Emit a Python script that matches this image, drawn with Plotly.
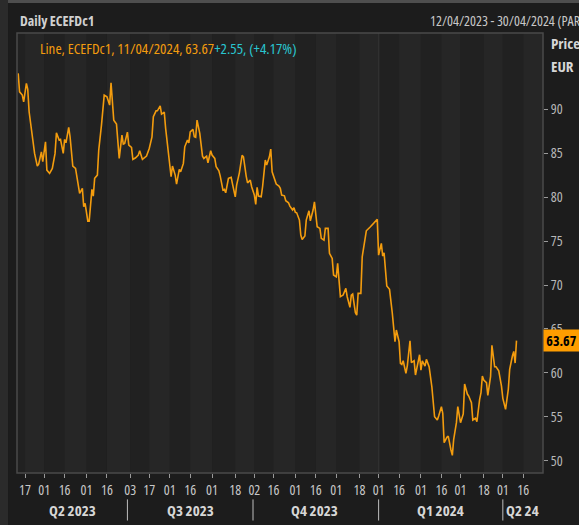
import plotly.graph_objects as go

# ---------------- data ----------------
dates = [
    "2023-04-12", "2023-04-13", "2023-04-15", "2023-04-16", "2023-04-18", "2023-04-19", "2023-04-20",
    "2023-04-22", "2023-04-24", "2023-04-26", "2023-04-27", "2023-04-29", "2023-04-30",
    "2023-05-02", "2023-05-03", "2023-05-05", "2023-05-07", "2023-05-09", "2023-05-10", "2023-05-12",
    "2023-05-13", "2023-05-15", "2023-05-16", "2023-05-17", "2023-05-19", "2023-05-20", "2023-05-22",
    "2023-05-24", "2023-05-26", "2023-05-27", "2023-05-29", "2023-05-30", "2023-05-31",
    "2023-06-02", "2023-06-03", "2023-06-05", "2023-06-06", "2023-06-07", "2023-06-09", "2023-06-10",
    "2023-06-12", "2023-06-14", "2023-06-16", "2023-06-18", "2023-06-19", "2023-06-21", "2023-06-23",
    "2023-06-25", "2023-06-27", "2023-06-28", "2023-06-29",
    "2023-07-01", "2023-07-02", "2023-07-04", "2023-07-05", "2023-07-07", "2023-07-09", "2023-07-10",
    "2023-07-12", "2023-07-15", "2023-07-17", "2023-07-19", "2023-07-20", "2023-07-22", "2023-07-23",
    "2023-07-25", "2023-07-26", "2023-07-28", "2023-07-29", "2023-07-31",
    "2023-08-02", "2023-08-03", "2023-08-05", "2023-08-06", "2023-08-08", "2023-08-09", "2023-08-11",
    "2023-08-12", "2023-08-14", "2023-08-15", "2023-08-16", "2023-08-18", "2023-08-19", "2023-08-20",
    "2023-08-21", "2023-08-23", "2023-08-25", "2023-08-26", "2023-08-28", "2023-08-29", "2023-08-31",
    "2023-09-01", "2023-09-03", "2023-09-04", "2023-09-06", "2023-09-07", "2023-09-09", "2023-09-10",
    "2023-09-11", "2023-09-13", "2023-09-15", "2023-09-16", "2023-09-18", "2023-09-19", "2023-09-21",
    "2023-09-23", "2023-09-24", "2023-09-26", "2023-09-27", "2023-09-29", "2023-09-30",
    "2023-10-02", "2023-10-03", "2023-10-04", "2023-10-05", "2023-10-07", "2023-10-08", "2023-10-10",
    "2023-10-11", "2023-10-13", "2023-10-14", "2023-10-15", "2023-10-16", "2023-10-18", "2023-10-20",
    "2023-10-21", "2023-10-22", "2023-10-24", "2023-10-25", "2023-10-27", "2023-10-28", "2023-10-30",
    "2023-10-31",
    "2023-11-01", "2023-11-02", "2023-11-04", "2023-11-05", "2023-11-06", "2023-11-08", "2023-11-09",
    "2023-11-11", "2023-11-12", "2023-11-14", "2023-11-15", "2023-11-17", "2023-11-19", "2023-11-20",
    "2023-11-22", "2023-11-23", "2023-11-25", "2023-11-26", "2023-11-28", "2023-11-29",
    "2023-12-01", "2023-12-02", "2023-12-04", "2023-12-06", "2023-12-08", "2023-12-09", "2023-12-11",
    "2023-12-12", "2023-12-13", "2023-12-15", "2023-12-16", "2023-12-17", "2023-12-19", "2023-12-20",
    "2023-12-22", "2023-12-23", "2023-12-26", "2023-12-28", "2023-12-30", "2023-12-31",
    "2024-01-01", "2024-01-03", "2024-01-04", "2024-01-05", "2024-01-07", "2024-01-09", "2024-01-11",
    "2024-01-13", "2024-01-14", "2024-01-16", "2024-01-17", "2024-01-18", "2024-01-19", "2024-01-21",
    "2024-01-22", "2024-01-24", "2024-01-25", "2024-01-27", "2024-01-28", "2024-01-30", "2024-01-31",
    "2024-02-01", "2024-02-02", "2024-02-04", "2024-02-05", "2024-02-07", "2024-02-09", "2024-02-11",
    "2024-02-13", "2024-02-14", "2024-02-16", "2024-02-17", "2024-02-18", "2024-02-20", "2024-02-21",
    "2024-02-23", "2024-02-24", "2024-02-25", "2024-02-27", "2024-02-28",
    "2024-03-01", "2024-03-03", "2024-03-04", "2024-03-06", "2024-03-07", "2024-03-09", "2024-03-10",
    "2024-03-12", "2024-03-13", "2024-03-15", "2024-03-16", "2024-03-17", "2024-03-18", "2024-03-20",
    "2024-03-21", "2024-03-23", "2024-03-24", "2024-03-26", "2024-03-27", "2024-03-29", "2024-03-31",
    "2024-04-01", "2024-04-03", "2024-04-05", "2024-04-06", "2024-04-08", "2024-04-09", "2024-04-10",
    "2024-04-11",
]

prices = [
    94.10, 92.00, 91.63, 90.86, 92.96, 92.28, 89.73, 87.07, 84.99, 83.55, 83.77, 85.17, 84.04,
    86.31, 83.09, 82.71, 83.28, 84.99, 87.34, 86.51, 86.58, 84.99, 86.58, 86.20, 87.95, 86.88, 83.55,
    83.28, 81.01, 80.44, 81.01, 78.91, 79.30,
    77.28, 77.28, 80.89, 80.13, 82.15, 82.52, 85.37, 88.21, 91.63, 91.43, 90.49, 93.03, 88.78, 88.33,
    84.42, 87.07, 86.05, 86.13,
    87.42, 85.94, 85.67, 84.31, 84.49, 84.80, 85.29, 84.31, 84.68, 85.56, 86.88, 89.16, 89.84, 89.84,
    90.41, 89.46, 89.69, 87.84, 84.99,
    82.33, 83.55, 82.52, 81.50, 83.17, 82.90, 83.85, 85.74, 86.51, 86.20, 87.45, 87.72, 86.88, 86.81,
    88.78, 87.27, 84.68, 84.42, 84.68, 83.92, 85.29,
    84.80, 84.42, 83.47, 83.01, 82.41, 80.81, 80.89, 80.51, 82.15, 82.26, 81.50, 80.05, 81.38, 82.78,
    84.76, 84.60, 82.41, 81.64, 81.95, 81.19,
    80.24, 79.19, 81.12, 80.13, 80.05, 81.19, 84.23, 83.66, 84.60, 85.48, 82.90, 82.33, 81.50, 81.27,
    81.01, 80.24, 80.16, 79.60, 79.37, 78.99, 78.54, 78.80,
    78.28, 78.23, 77.40, 75.69, 75.20, 75.58, 77.40, 78.46, 77.32, 78.54, 79.48, 76.64, 76.45, 75.32,
    75.12, 76.45, 76.45, 73.61, 73.04, 71.14,
    70.94, 72.47, 68.67, 68.86, 69.62, 68.67, 67.46, 68.86, 68.98, 66.85, 66.58, 69.05, 69.05, 73.22,
    75.50, 76.18, 76.64, 77.02, 77.32, 77.48,
    73.41, 74.75, 73.30, 73.68, 69.89, 69.51, 66.85, 63.55, 64.88, 63.55, 61.09, 60.97, 61.38, 59.95,
    60.78, 63.66, 61.16, 61.38, 59.76, 61.46, 62.07,
    60.32, 61.38, 60.78, 61.54, 60.70, 58.42, 55.01, 54.63, 55.09, 56.15, 55.40, 52.05, 52.66, 52.81,
    51.22, 50.61, 52.44, 54.33, 56.15,
    54.33, 55.32, 58.73, 57.59, 57.36, 56.60, 54.63, 54.83, 54.44, 56.99, 57.74, 59.64, 59.19, 58.88,
    57.44, 59.56, 63.14, 60.70, 60.70, 60.24, 58.50,
    57.10, 55.85, 58.13, 60.40, 61.92, 62.45, 61.12, 63.67,
]
assert len(dates) == len(prices)

tick_dates = [
    "2023-04-17", "2023-05-01", "2023-05-16", "2023-06-01", "2023-06-16", "2023-07-03", "2023-07-17",
    "2023-08-01", "2023-08-16", "2023-09-01", "2023-09-18", "2023-10-02", "2023-10-16", "2023-11-01",
    "2023-11-16", "2023-12-01", "2023-12-18", "2024-01-01", "2024-01-16", "2024-02-01", "2024-02-16",
    "2024-03-01", "2024-03-18", "2024-04-01", "2024-04-16",
]
tick_labels = [d[-2:] for d in tick_dates]

quarter_starts = ["2023-07-01", "2023-10-01", "2024-01-01", "2024-04-01"]
quarter_labels = ["Q2 2023", "Q3 2023", "Q4 2023", "Q1 2024", "Q2 24"]
quarter_label_dates = ["2023-05-22", "2023-08-16", "2023-11-15", "2024-02-15", "2024-04-02"]

y_ticks = [50, 55, 60, 65, 70, 75, 80, 85, 90]
x_range = ["2023-04-11 03:00", "2024-04-30 10:00"]
y_range = [48.6, 98.7]

series_name = "ECEFDc1"
last_date_label = "11/04/2024"
date_span = "12/04/2023 - 30/04/2024 (PAR)"

# ---------------- styling ----------------
FONT = "Open Sans, Noto Sans, sans-serif"
BG = "#1c1c1c"
PLOT_BG = "#232323"
ORANGE = "#f39c0e"
CYAN = "#29c5cf"
TXT = "#c8c8c8"


def cond(t):
    return "<span style='font-stretch:75%%'>%s</span>" % t


last = prices[-1]
chg = prices[-1] - prices[-2]
pct = chg / prices[-2] * 100

fig = go.Figure()
fig.add_trace(go.Scatter(x=dates, y=prices, mode="lines",
                         line=dict(color=ORANGE, width=1.6), hoverinfo="skip", showlegend=False))

shapes = []
band_edges = [x_range[0]] + tick_dates + [x_range[1]]
for i in range(len(band_edges) - 1):
    shapes.append(dict(type="rect", xref="x", yref="paper", x0=band_edges[i], x1=band_edges[i + 1],
                       y0=0, y1=1, fillcolor="#262626" if i % 2 else "#212121",
                       line=dict(width=0), layer="below"))
shapes.append(dict(type="line", xref="x", yref="paper", x0="2024-01-01", x1="2024-01-01", y0=0, y1=1,
                   line=dict(color="#303030", width=1.5), layer="below"))
for q in quarter_starts:
    shapes.append(dict(type="line", xref="x", yref="paper", x0=q, x1=q, y0=-0.06, y1=-0.108,
                       line=dict(color="#bdbdbd", width=1)))
shapes.append(dict(type="rect", xref="paper", yref="paper", x0=0, x1=1, y0=0, y1=1,
                   line=dict(color="#4a4a4a", width=1.5)))
shapes.append(dict(type="rect", xref="paper", yref="paper", x0=-0.0335, x1=-0.0171, y0=-0.12, y1=1.08,
                   fillcolor="#2b2b2b", line=dict(width=0)))
shapes.append(dict(type="line", xref="paper", yref="paper", x0=-0.0171, x1=1.08, y0=1.0716, y1=1.0716,
                   line=dict(color="#4e4e4e", width=3)))

annotations = []
for lab, d in zip(quarter_labels, quarter_label_dates):
    annotations.append(dict(x=d, xref="x", y=-0.084, yref="paper", text="<b>%s</b>" % cond(lab),
                            showarrow=False, xanchor="center" if lab != "Q2 24" else "left",
                            yanchor="middle", font=dict(family=FONT, size=15, color="#d6d6d6")))
annotations.append(dict(x=0.002, xref="paper", y=1.0295, yref="paper",
                        text="<b>%s</b>" % cond("Daily " + series_name),
                        showarrow=False, xanchor="left", yanchor="middle",
                        font=dict(family=FONT, size=14, color="#d0d0d0")))
annotations.append(dict(x=0.781, xref="paper", y=1.0295, yref="paper", text=cond(date_span),
                        showarrow=False, xanchor="left", yanchor="middle",
                        font=dict(family=FONT, size=14, color="#c8c8c8")))
annotations.append(dict(
    x=0.040, xref="paper", y=0.966, yref="paper", showarrow=False, xanchor="left", yanchor="middle",
    text=("<span style='font-stretch:75%%;color:%s'>Line, %s, %s, %.2f</span>"
          "<span style='font-stretch:75%%;color:%s'>%+.2f, (%+.2f%%)</span>"
          % (ORANGE, series_name, last_date_label, last, CYAN, chg, pct)),
    font=dict(family=FONT, size=15, color=ORANGE)))
annotations.append(dict(x=1.011, xref="paper", y=0.977, yref="paper", text="<b>%s</b>" % cond("Price"),
                        showarrow=False, xanchor="left", yanchor="middle",
                        font=dict(family=FONT, size=15, color="#d6d6d6")))
annotations.append(dict(x=1.011, xref="paper", y=0.925, yref="paper", text="<b>%s</b>" % cond("EUR"),
                        showarrow=False, xanchor="left", yanchor="middle",
                        font=dict(family=FONT, size=15, color="#d6d6d6")))
annotations.append(dict(x=1.0, xref="paper", y=last, yref="y", text="<b>%s</b>" % cond("%.2f" % last),
                        showarrow=False, xanchor="left", yanchor="middle", bgcolor="#ff9d00", borderpad=1,
                        width=33, font=dict(family=FONT, size=14, color="#000000")))

fig.update_layout(
    width=579, height=525,
    margin=dict(l=17, r=36, t=33, b=52),
    paper_bgcolor=BG, plot_bgcolor=PLOT_BG,
    font=dict(family=FONT, size=14, color=TXT),
    showlegend=False,
    shapes=shapes, annotations=annotations,
    xaxis=dict(range=x_range, type="date", tickvals=tick_dates, ticktext=[cond(t) for t in tick_labels],
               ticks="outside", ticklen=4, tickcolor="#9a9a9a", showgrid=False, zeroline=False,
               showline=False, tickfont=dict(family=FONT, size=14, color=TXT), fixedrange=True),
    yaxis=dict(range=y_range, side="right", tickvals=y_ticks, ticktext=[cond(str(v)) for v in y_ticks],
               ticks="outside", ticklen=4,
               tickcolor="#9a9a9a", showgrid=False, zeroline=False, showline=False,
               tickfont=dict(family=FONT, size=14, color="#b8b8b8"), fixedrange=True),
)

fig.write_html("out.html", config={"displayModeBar": False},
               post_script="document.body.style.margin='0';")
